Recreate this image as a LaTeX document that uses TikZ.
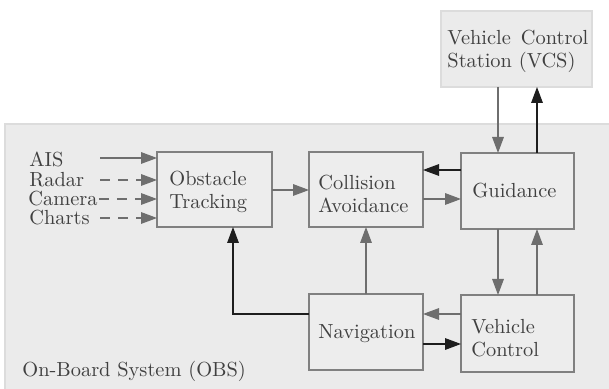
\documentclass[tikz,border=0pt]{standalone}
\usetikzlibrary{arrows.meta}
\definecolor{bgc}{HTML}{EBEBEB}
\definecolor{bgline}{HTML}{DCDCDC}
\definecolor{boxfill}{HTML}{EDEDED}
\definecolor{boxline}{HTML}{808080}
\definecolor{txt}{HTML}{404040}
\definecolor{grayarr}{HTML}{6E6E6E}
\definecolor{blackarr}{HTML}{1E1E1E}
\begin{document}
\begin{tikzpicture}[x=0.5pt,y=-0.5pt,
  blk/.style={draw=boxline,fill=boxfill,line width=0.65pt},
  lbl/.style={text=txt,font=\fontsize{10.2}{11.6}\selectfont,inner sep=0pt,align=left,anchor=west},
  garr/.style={draw=grayarr,line width=0.6pt,-{Triangle[length=8pt,width=5.8pt,fill=grayarr]}},
  barr/.style={draw=blackarr,line width=0.6pt,-{Triangle[length=8pt,width=5.8pt,fill=blackarr]}},
  dsh/.style={dash pattern=on 5pt off 4pt}]
\useasboundingbox (0,0) rectangle (609,389);
% backgrounds
\fill[white] (0,0) rectangle (609,389);
\draw[fill=bgc,draw=bgline,line width=0.6pt] (5,124) rectangle (610,392);
\draw[fill=bgc,draw=bgline,line width=0.6pt] (441,11) rectangle (592,87);
\node[lbl,text width=70.5pt] (vcs) at (447,51) {Vehicle\hfill Control\\Station (VCS)};
\node[lbl] (obs) at (22,371) {On-Board System (OBS)};
% boxes
\draw[blk] (157,152) rectangle (272,227);
\draw[blk] (309,152) rectangle (423,227);
\draw[blk] (461,153) rectangle (574,229);
\draw[blk] (309,294) rectangle (423,370);
\draw[blk] (461,295) rectangle (574,372);
\node[lbl] (ot) at (169,192) {Obstacle\\Tracking};
\node[lbl] (ca) at (318,194) {Collision\\Avoidance};
\node[lbl] (gd) at (472,191) {Guidance};
\node[lbl] (nv) at (318,334) {Navigation};
\node[lbl] (vc) at (471,338) {Vehicle\\Control};
% inputs
\node[lbl] (ais) at (29,159) {AIS};
\node[lbl] (radar) at (29,180) {Radar};
\node[lbl] (cam) at (28,199) {Camera};
\node[lbl] (charts) at (29,218) {Charts};
\coordinate (aisS) at (100,158);
\coordinate (aisE) at (157,158);
\coordinate (radS) at (100,180);
\coordinate (radE) at (157,180);
\coordinate (camS) at ([xshift=0.5pt]cam.east);
\coordinate (camE) at (157,199);
\coordinate (chaS) at (100,218);
\coordinate (chaE) at (157,218);
\draw[garr] (aisS) -- (aisE);
\draw[garr,dsh] (radS) -- (radE);
\draw[garr,dsh] (camS) -- (camE);
\draw[garr,dsh] (chaS) -- (chaE);
% connectors
\draw[garr] (272,190) -- (309,190);
\draw[garr] (423,199) -- (461,199);
\draw[barr] (461,170) -- (423,170);
\draw[garr] (498,87) -- (498,153);
\draw[barr] (537,153) -- (537,87);
\draw[garr] (498,229) -- (498,295);
\draw[garr] (537,295) -- (537,229);
\draw[garr] (366,294) -- (366,227);
\draw[barr] (309,314) -- (233,314) -- (233,227);
\draw[garr] (461,314) -- (423,314);
\draw[barr] (423,344) -- (461,344);
\end{tikzpicture}
\end{document}
